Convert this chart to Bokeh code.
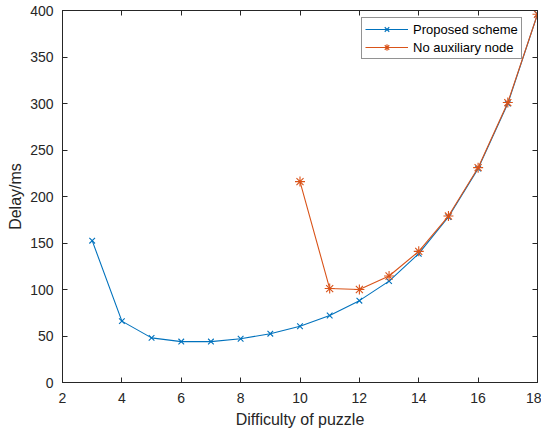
from bokeh.plotting import figure
from bokeh.models import Range1d, LinearAxis, FixedTicker, Legend
from bokeh.embed import file_html
from bokeh.resources import INLINE

difficulty = [3, 4, 5, 6, 7, 8, 9, 10, 11, 12, 13, 14, 15, 16, 17, 18]
delay_proposed = [152.5, 66, 48, 44, 44, 47, 52.5, 60.5, 72, 88, 109, 138.5, 178, 230, 300, 396]
difficulty_noaux = [10, 11, 12, 13, 14, 15, 16, 17, 18]
delay_noaux = [216, 101, 100, 114.5, 141, 179, 231, 301, 396]
x_ticks = [2, 4, 6, 8, 10, 12, 14, 16, 18]
y_ticks = [0, 50, 100, 150, 200, 250, 300, 350, 400]

BLUE = "#0072BD"
ORANGE = "#D95319"
AX = "#262626"
FONT = "Liberation Sans"

p = figure(width=541, height=431, output_backend="svg", toolbar_location=None,
           x_range=Range1d(2, 18), y_range=Range1d(0, 400),
           min_border_left=62, min_border_right=4, min_border_top=10, min_border_bottom=49,
           x_axis_label="Difficulty of puzzle", y_axis_label="Delay/ms")
p.grid.visible = False
p.outline_line_color = AX
p.outline_line_width = 1

def style_axis(ax, ticks, show_labels=True):
    ax.ticker = FixedTicker(ticks=ticks)
    ax.major_tick_in = 5
    ax.major_tick_out = 0
    ax.minor_tick_in = 0
    ax.minor_tick_out = 0
    ax.axis_line_color = AX
    ax.major_tick_line_color = AX
    ax.major_label_text_color = AX
    ax.major_label_text_font = FONT
    ax.major_label_text_font_size = "14px"
    ax.axis_label_text_font = FONT
    ax.axis_label_text_font_size = "16px"
    ax.axis_label_text_font_style = "normal"
    ax.axis_label_text_color = AX
    if not show_labels:
        ax.major_label_overrides = {t: "" for t in ticks}
        ax.major_label_standoff = 0

xa = p.xaxis[0]
ya = p.yaxis[0]
style_axis(xa, x_ticks)
style_axis(ya, y_ticks)
xa.major_label_standoff = 10
xa.axis_label_standoff = 5
ya.major_label_standoff = 9
ya.axis_label_standoff = 3

top = LinearAxis()
style_axis(top, x_ticks, show_labels=False)
p.add_layout(top, "above")
right = LinearAxis()
style_axis(right, y_ticks, show_labels=False)
p.add_layout(right, "right")

l1 = p.line(difficulty, delay_proposed, line_color=BLUE, line_width=1.1)
s1 = p.scatter(difficulty, delay_proposed, marker="x", size=8, line_color=BLUE, line_width=1.1)
l2 = p.line(difficulty_noaux, delay_noaux, line_color=ORANGE, line_width=1.1)
s2 = p.scatter(difficulty_noaux, delay_noaux, marker="asterisk", size=10, line_color=ORANGE, line_width=1.1)

legend = Legend(items=[("Proposed scheme", [l1, s1]), ("No auxiliary node", [l2, s2])],
                location=(299, 323))
legend.label_text_font = FONT
legend.label_text_font_size = "13px"
legend.label_text_color = "#000000"
legend.border_line_color = AX
legend.border_line_width = 1
legend.glyph_width = 43
legend.glyph_height = 16
legend.label_height = 16
legend.spacing = 2
legend.padding = 3
legend.margin = 0
legend.label_standoff = 5
legend.background_fill_alpha = 1
p.add_layout(legend, "center")

open("out.html", "w").write(file_html(p, INLINE))
